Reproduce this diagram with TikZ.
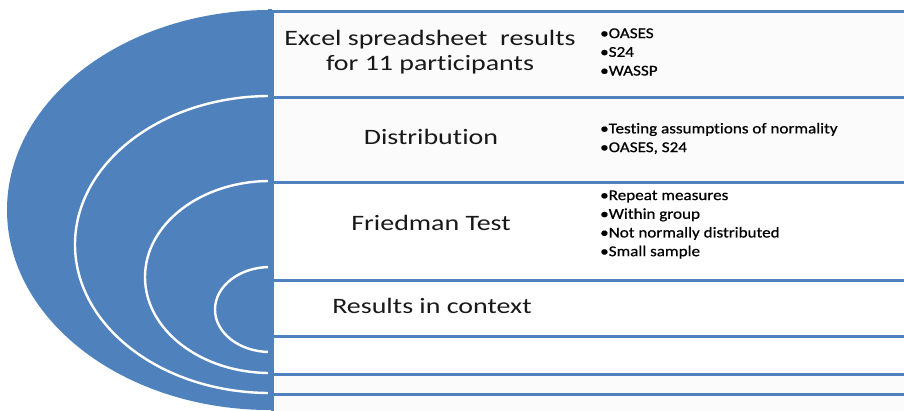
\documentclass[tikz,border=0pt]{standalone}
\usepackage{fontspec}
\setmainfont{Carlito}[FakeStretch=1.27,Ligatures=NoCommon]
\newfontfamily\bulletfont{Carlito}[FakeStretch=1.14,Ligatures=NoCommon,FakeBold=0.6]
\definecolor{accblue}{HTML}{4F81BD}
\definecolor{paleback}{HTML}{FBFBFB}
\begin{document}
\begin{tikzpicture}[x=1pt,y=-1pt,
  rowbox/.style={draw=accblue,line width=2.5pt,minimum width=660pt,anchor=north west,inner sep=0pt},
  ring/.style={fill=accblue,draw=white,line width=2.4pt},
  maintext/.style={font=\fontsize{22}{25}\selectfont,align=center,text=black!90},
  bullettext/.style={font=\bulletfont\fontsize{15}{18.7}\selectfont,align=left,anchor=west,text=black,inner sep=0pt}]
\useasboundingbox (0,0) rectangle (904,410);
% rows
\node[rowbox,fill=paleback,minimum height=86pt] (r1) at (271,10) {};
\node[rowbox,fill=paleback,minimum height=85pt] (r2) at (271,96) {};
\node[rowbox,fill=white,minimum height=98pt] (r3) at (271,181) {};
\node[rowbox,fill=white,minimum height=56pt] (r4) at (271,279) {};
\node[rowbox,fill=white,minimum height=38pt] (r5) at (271,335) {};
\node[rowbox,fill=paleback,minimum height=20pt] (r6) at (271,373) {};
\node[rowbox,fill=paleback,minimum height=30pt] (r7) at (271,393) {};
% nested half ellipses
\begin{scope}
\clip (0,0) rectangle (268,412);
\fill[accblue] (270,210) ellipse [x radius=263pt, y radius=200pt];
\draw[ring] (270,244.5) ellipse [x radius=195pt, y radius=148.5pt];
\draw[ring] (270,277) ellipse [x radius=125pt, y radius=96pt];
\draw[ring] (270,309.5) ellipse [x radius=55pt, y radius=42.5pt];
\end{scope}
\fill[accblue] (267.5,8.75) rectangle (272.2,410);
% texts
\node[maintext] (t1) at (430,52) {Excel spreadsheet\ \ results\\for 11 participants};
\node[maintext] (t2) at (431,137) {Distribution};
\node[maintext] (t3) at (431,223) {Friedman Test};
\node[maintext] (t4) at (432,306) {Results in context};
\node[bullettext] (b1) at (600,52) {•OASES\\•S24\\•WASSP};
\node[bullettext] (b2) at (600,138.5) {•Testing assumptions of normality\\•OASES, S24};
\node[bullettext] (b3) at (600,224.5) {•Repeat measures\\•Within group\\•Not normally distributed\\•Small sample};
\end{tikzpicture}
\end{document}
